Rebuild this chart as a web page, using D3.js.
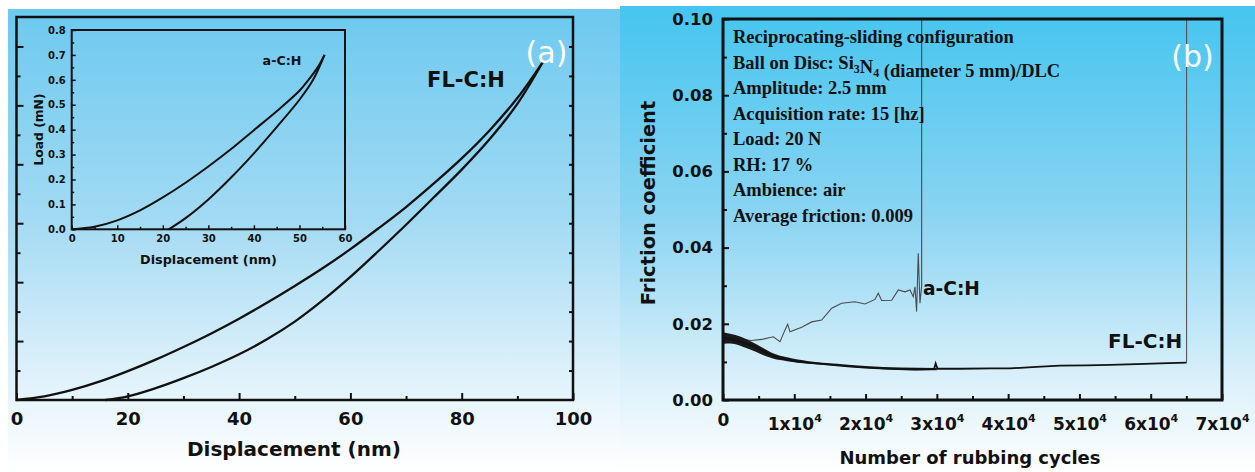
<!DOCTYPE html>
<html>
<head>
<meta charset="utf-8">
<script src="https://cdn.jsdelivr.net/npm/d3@7"></script>
<style>
body { margin: 0; background: #fff; }
svg text { font-family: "DejaVu Sans", sans-serif; font-weight: bold; fill: #111; }
svg text.serif { font-family: "Liberation Serif", "Times New Roman", serif; }
svg text.tag { font-weight: normal; fill: #fff; }
</style>
</head>
<body>
<div id="chart"></div>
<script>
// ---- panel (a): load-displacement, FL-C:H (load axis is unlabeled in the source)
var loadX = [0, 5, 10, 15, 20, 25, 30, 35, 40, 45, 50, 55, 60, 65, 70, 75, 80, 85, 90, 94.6];
var loadY = [0, 0.12, 0.34, 0.63, 0.98, 1.37, 1.8, 2.26, 2.76, 3.3, 3.87, 4.47, 5.12, 5.82, 6.55, 7.35, 8.2, 9.15, 10.25, 11.48];
var unloadX = [16, 20, 25, 30, 35, 40, 45, 50, 55, 60, 65, 70, 75, 80, 85, 90, 94.6];
var unloadY = [0, 0.12, 0.4, 0.74, 1.12, 1.55, 2.06, 2.66, 3.38, 4.18, 5.05, 5.95, 6.88, 7.82, 8.85, 10.05, 11.48];
var dispTicks = [0, 20, 40, 60, 80, 100];

// inset: a-C:H
var insetLoadX = [0, 5, 10, 15, 20, 25, 30, 35, 40, 45, 50, 52, 54, 55.5];
var insetLoadY = [0, 0.01, 0.036, 0.076, 0.128, 0.187, 0.252, 0.322, 0.398, 0.474, 0.556, 0.6, 0.65, 0.70];
var insetUnloadX = [21.3, 25, 30, 35, 40, 45, 50, 53, 55.5];
var insetUnloadY = [0, 0.045, 0.12, 0.208, 0.305, 0.41, 0.52, 0.6, 0.70];
var insetXTicks = [0, 10, 20, 30, 40, 50, 60];
var insetYTicks = [0, 0.1, 0.2, 0.3, 0.4, 0.5, 0.6, 0.7, 0.8];

// ---- panel (b): friction vs cycles
var acX = [0, 2000, 4020, 5430, 7060, 8000, 8700, 9070, 9400, 11040, 12440, 13840, 15250, 16650, 18510, 19920, 21320, 21780, 22260, 23660, 24590, 25530, 26230, 26690, 26930, 27160, 27390, 27630, 27870, 27870];
var acY = [0.0165, 0.016, 0.0156, 0.0159, 0.0166, 0.0153, 0.0184, 0.0199, 0.0179, 0.0191, 0.0205, 0.021, 0.0241, 0.0254, 0.0258, 0.0252, 0.0264, 0.028, 0.0261, 0.0262, 0.0289, 0.0284, 0.0289, 0.0271, 0.0297, 0.0232, 0.0385, 0.0254, 0.03, 0.1];
var flX = [0, 1000, 2500, 4490, 6000, 7290, 8500, 10500, 13000, 15250, 17500, 19900, 22000, 24550, 27000, 29260, 29600, 29830, 30100, 33240, 37680, 40250, 44000, 47260, 51000, 54280, 58000, 61290, 65030, 65030];
var flY = [0.0163, 0.0161, 0.0153, 0.014, 0.0125, 0.0114, 0.0108, 0.0101, 0.0096, 0.0092, 0.0088, 0.0085, 0.0083, 0.0081, 0.008, 0.0081, 0.0081, 0.0096, 0.0082, 0.0082, 0.0083, 0.0083, 0.0087, 0.009, 0.0091, 0.0092, 0.0094, 0.0096, 0.0098, 0.1];
// noisy envelope of FL-C:H during running-in
var bandX = [0, 1000, 2500, 4000, 5500, 7000, 9000, 12000, 16000, 20000, 25000, 30000];
var bandHi = [0.0178, 0.0174, 0.0166, 0.0153, 0.0138, 0.0123, 0.0112, 0.0102, 0.0095, 0.0089, 0.0085, 0.0084];
var bandLo = [0.0147, 0.0148, 0.0142, 0.0131, 0.0119, 0.0109, 0.0102, 0.0095, 0.009, 0.0084, 0.0079, 0.0078];
var cycleTicks = [0, 10000, 20000, 30000, 40000, 50000, 60000, 70000];
var frictionTicks = [0, 0.02, 0.04, 0.06, 0.08, 0.1];
var infoLines = [
	"Reciprocating-sliding configuration",
	"Ball on Disc: Si_3N_4 (diameter 5 mm)/DLC",
	"Amplitude: 2.5 mm",
	"Acquisition rate: 15 [hz]",
	"Load: 20 N",
	"RH: 17 %",
	"Ambience: air",
	"Average friction: 0.009"
];

var svg = d3.select("#chart").append("svg")
	.attr("width", 1255)
	.attr("height", 472);

// Backgrounds
var defs = svg.append("defs");
function makeGradient(id, stops) {
	var g = defs.append("linearGradient").attr("id", id)
		.attr("x1", 0).attr("y1", 0).attr("x2", 0).attr("y2", 1);
	stops.forEach(function(s) {
		g.append("stop").attr("offset", s[0]).attr("stop-color", s[1]);
	});
}
makeGradient("bgA", [[0, "#6cc9ef"], [0.45, "#a2daf3"], [0.8, "#e0f2fb"], [1, "#ffffff"]]);
makeGradient("bgB", [[0, "#45c5ef"], [0.45, "#8ad4f2"], [0.8, "#daf0fa"], [1, "#ffffff"]]);
svg.append("rect").attr("x", 8).attr("y", 9).attr("width", 612).attr("height", 463).attr("fill", "url(#bgA)");
svg.append("rect").attr("x", 620).attr("y", 6).attr("width", 635).attr("height", 466).attr("fill", "url(#bgB)");

function cleanAxis(g) {
	g.attr("font-size", null).attr("font-family", null);
	g.select(".domain").remove();
	g.selectAll(".tick line").attr("stroke", "#111").attr("stroke-width", 2);
}

/* ---------------- panel (a) ---------------- */
var xA = d3.scaleLinear().domain([0, 100]).range([16.5, 573]);
var yA = d3.scaleLinear().domain([0, 13]).range([400, 17]);
var gA = svg.append("g");

gA.append("g").attr("transform", "translate(0,400)")
	.call(d3.axisBottom(xA).tickValues(dispTicks).tickSize(-7).tickPadding(12).tickFormat(d3.format("d")))
	.call(cleanAxis)
	.selectAll("text").style("font-size", "18px");
gA.append("g").attr("transform", "translate(0,400)")
	.call(d3.axisBottom(xA).tickValues(d3.range(10, 100, 20)).tickSize(-4).tickFormat(""))
	.call(cleanAxis);
gA.append("g").attr("transform", "translate(16.5,0)")
	.call(d3.axisLeft(yA).tickValues(d3.range(2, 13, 2)).tickSize(-7).tickFormat(""))
	.call(cleanAxis);
gA.append("g").attr("transform", "translate(16.5,0)")
	.call(d3.axisLeft(yA).tickValues(d3.range(1, 13, 2)).tickSize(-4).tickFormat(""))
	.call(cleanAxis);
gA.append("g").attr("transform", "translate(573,0)")
	.call(d3.axisRight(yA).tickValues(d3.range(1, 13)).tickSize(-4).tickFormat(""))
	.call(cleanAxis);

gA.append("rect").attr("x", xA(0)).attr("y", yA(13))
	.attr("width", xA(100) - xA(0)).attr("height", yA(0) - yA(13))
	.attr("fill", "none").attr("stroke", "#111").attr("stroke-width", 2.5);

var lineA = d3.line().x(function(d) { return xA(d[0]); }).y(function(d) { return yA(d[1]); }).curve(d3.curveCatmullRom);
gA.append("path").datum(d3.zip(loadX, loadY)).attr("d", lineA)
	.attr("fill", "none").attr("stroke", "#111").attr("stroke-width", 2.3);
gA.append("path").datum(d3.zip(unloadX, unloadY)).attr("d", lineA)
	.attr("fill", "none").attr("stroke", "#111").attr("stroke-width", 2.3);

gA.append("text").attr("x", 294).attr("y", 456).attr("text-anchor", "middle")
	.style("font-size", "20px").text("Displacement (nm)");
gA.append("text").attr("x", 466).attr("y", 87).attr("text-anchor", "middle")
	.style("font-size", "21px").text("FL-C:H");
gA.append("text").attr("class", "tag").attr("x", 546.5).attr("y", 63).attr("text-anchor", "middle")
	.style("font-size", "30px").text("(a)");

// inset
var xI = d3.scaleLinear().domain([0, 60]).range([71.7, 345]);
var yI = d3.scaleLinear().domain([0, 0.8]).range([229.3, 30]);
var gI = svg.append("g");
gI.append("g").attr("transform", "translate(0,229.3)")
	.call(d3.axisBottom(xI).tickValues(insetXTicks).tickSize(-4).tickPadding(6).tickFormat(d3.format("d")))
	.call(cleanAxis)
	.selectAll("text").style("font-size", "10px");
gI.append("g").attr("transform", "translate(0,229.3)")
	.call(d3.axisBottom(xI).tickValues(d3.range(5, 60, 10)).tickSize(-2.5).tickFormat(""))
	.call(cleanAxis);
gI.append("g").attr("transform", "translate(71.7,0)")
	.call(d3.axisLeft(yI).tickValues(insetYTicks).tickSize(-4).tickPadding(6).tickFormat(d3.format(".1f")))
	.call(cleanAxis)
	.selectAll("text").style("font-size", "10px");
gI.append("g").attr("transform", "translate(71.7,0)")
	.call(d3.axisLeft(yI).tickValues(d3.range(0.05, 0.8, 0.1)).tickSize(-2.5).tickFormat(""))
	.call(cleanAxis);
gI.selectAll(".tick line").attr("stroke-width", 1.5);
gI.append("rect").attr("x", xI(0)).attr("y", yI(0.8))
	.attr("width", xI(60) - xI(0)).attr("height", yI(0) - yI(0.8))
	.attr("fill", "none").attr("stroke", "#111").attr("stroke-width", 2);

var lineI = d3.line().x(function(d) { return xI(d[0]); }).y(function(d) { return yI(d[1]); }).curve(d3.curveCatmullRom);
gI.append("path").datum(d3.zip(insetLoadX, insetLoadY)).attr("d", lineI)
	.attr("fill", "none").attr("stroke", "#111").attr("stroke-width", 2);
gI.append("path").datum(d3.zip(insetUnloadX, insetUnloadY)).attr("d", lineI)
	.attr("fill", "none").attr("stroke", "#111").attr("stroke-width", 2);

gI.append("text").attr("x", 208.5).attr("y", 264).attr("text-anchor", "middle")
	.style("font-size", "12.8px").text("Displacement (nm)");
gI.append("text").attr("transform", "translate(43,129.5) rotate(-90)").attr("text-anchor", "middle")
	.style("font-size", "12.3px").text("Load (mN)");
gI.append("text").attr("x", 282).attr("y", 65).attr("text-anchor", "middle")
	.style("font-size", "12.7px").text("a-C:H");

/* ---------------- panel (b) ---------------- */
var xB = d3.scaleLinear().domain([0, 70000]).range([723, 1222]);
var yB = d3.scaleLinear().domain([0, 0.1]).range([400, 19]);
var gB = svg.append("g");

gB.append("clipPath").attr("id", "clipB").append("rect")
	.attr("x", xB(0)).attr("y", yB(0.1)).attr("width", xB(70000) - xB(0)).attr("height", yB(0) - yB(0.1));

var gx = gB.append("g").attr("transform", "translate(0,400)")
	.call(d3.axisBottom(xB).tickValues(cycleTicks).tickSize(-6).tickPadding(13))
	.call(cleanAxis);
gx.selectAll(".tick text").each(function(d) {
	var t = d3.select(this).style("font-size", "17px").attr("dy", null);
	if (d === 0) { t.attr("y", 26).text("0"); return; }
	t.attr("y", 30).text("");
	t.append("tspan").text((d / 10000) + "x10");
	t.append("tspan").attr("dy", -8).style("font-size", "11px").text("4");
});
gB.append("g").attr("transform", "translate(0,400)")
	.call(d3.axisBottom(xB).tickValues(d3.range(5000, 70000, 10000)).tickSize(-4).tickFormat(""))
	.call(cleanAxis);
gB.append("g").attr("transform", "translate(723,0)")
	.call(d3.axisLeft(yB).tickValues(frictionTicks).tickSize(-6).tickPadding(10).tickFormat(d3.format(".2f")))
	.call(cleanAxis)
	.selectAll("text").style("font-size", "16.5px");
gB.append("g").attr("transform", "translate(723,0)")
	.call(d3.axisLeft(yB).tickValues([0.01, 0.03, 0.05, 0.07, 0.09]).tickSize(-4).tickFormat(""))
	.call(cleanAxis);

var plotB = gB.append("g").attr("clip-path", "url(#clipB)");
var lineB = d3.line().x(function(d) { return xB(d[0]); }).y(function(d) { return yB(d[1]); });
var areaB = d3.area().x(function(d) { return xB(d[0]); })
	.y0(function(d) { return yB(d[1]); }).y1(function(d) { return yB(d[2]); })
	.curve(d3.curveMonotoneX);

plotB.append("path").datum(d3.zip(acX, acY)).attr("d", lineB)
	.attr("fill", "none").attr("stroke", "#4a4a4a").attr("stroke-width", 1.1);
plotB.append("path").datum(d3.zip(bandX, bandLo, bandHi)).attr("d", areaB)
	.attr("fill", "#1a1a1a");
var flPts = d3.zip(flX, flY);
plotB.append("path").datum(flPts.slice(0, -1)).attr("d", lineB)
	.attr("fill", "none").attr("stroke", "#111").attr("stroke-width", 1.8);
plotB.append("path").datum(flPts.slice(-2)).attr("d", lineB)
	.attr("fill", "none").attr("stroke", "#555").attr("stroke-width", 1.1);

gB.append("rect").attr("x", xB(0)).attr("y", yB(0.1))
	.attr("width", xB(70000) - xB(0)).attr("height", yB(0) - yB(0.1))
	.attr("fill", "none").attr("stroke", "#111").attr("stroke-width", 3);

var info = gB.append("text").attr("class", "serif").style("font-size", "18.5px");
infoLines.forEach(function(line, i) {
	var parts = line.split(/(_\d)/);
	var first = true;
	parts.forEach(function(p) {
		if (p === "") return;
		var ts = info.append("tspan");
		if (first) { ts.attr("x", 733).attr("y", 43 + i * 25.5); first = false; }
		if (p.charAt(0) === "_") {
			ts.attr("dy", 4).style("font-size", "12px").text(p.slice(1));
			info.append("tspan").attr("dy", -4).text("");
		} else {
			ts.text(p);
		}
	});
});

gB.append("text").attr("x", 970).attr("y", 464).attr("text-anchor", "middle")
	.style("font-size", "18px").text("Number of rubbing cycles");
gB.append("text").attr("transform", "translate(655,203) rotate(-90)").attr("text-anchor", "middle")
	.style("font-size", "19.5px").text("Friction coefficient");
gB.append("text").attr("x", 923).attr("y", 295)
	.style("font-size", "18.6px").text("a-C:H");
gB.append("text").attr("x", 1108).attr("y", 348)
	.style("font-size", "20px").text("FL-C:H");
gB.append("text").attr("class", "tag").attr("x", 1192.5).attr("y", 66.5).attr("text-anchor", "middle")
	.style("font-size", "30px").text("(b)");
</script>
</body>
</html>
